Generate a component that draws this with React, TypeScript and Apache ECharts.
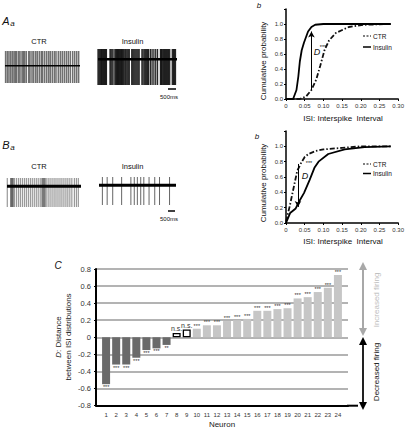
import React, { useEffect, useRef } from 'react';
import * as echarts from 'echarts';

const FONT = '"Liberation Sans", Arial, Helvetica, sans-serif';

// ---------- Panels Aa / Ba : spike times (ms) of the example recordings ----------
const spikesACtr = [40, 155, 265, 380, 490, 600, 690, 780, 910, 1000, 1135, 1220, 1310, 1420, 1580, 1665, 1800, 1910, 2045, 2155, 2290, 2420, 2510, 2645, 2780, 2910, 3020, 3155, 3290, 3400, 3555, 3690, 3820, 3955, 4090, 4220, 4355, 4510, 4645, 4780, 4910];
const spikesAIns = [0, 60, 120, 180, 240, 300, 370, 430, 500, 555, 790, 850, 920, 990, 1110, 1170, 1230, 1290, 1350, 1410, 1480, 1540, 1600, 1660, 1720, 1790, 1850, 1920, 1990, 2060, 2220, 2290, 2360, 2430, 2500, 2570, 2640, 2710, 2890, 2960, 3040, 3110, 3180, 3260, 3330, 3450, 3560, 3680, 3800, 3920, 4110, 4170, 4230, 4300, 4370, 4440, 4510, 4580, 4650, 4720, 4890, 4960, 5030, 5100];
const spikesBCtr = [20, 245, 275, 305, 335, 365, 395, 420, 510, 645, 780, 910, 1045, 1180, 1310, 1445, 1580, 1710, 1845, 1980, 2110, 2245, 2355, 2400, 2445, 2480, 2535, 2570, 2645, 2780, 2910, 3045, 3180, 3310, 3445, 3580, 3710, 3845, 3980, 4110, 4245, 4380, 4555, 4690, 4820];
const spikesBIns = [220, 530, 890, 1470, 2070, 2290, 2490, 2710, 2910, 3250, 3620, 3930, 4580];
const traceEndMs = [5000, 5200, 5000, 5000];
// [spike peak, resting level, spike trough] (arbitrary units)
const levelsACtr = [40, -15, -80];
const levelsAIns = [40, 6, -80];
const levelsBCtr = [40, 6, -80];
const levelsBIns = [40, 5, -80];

// ---------- Panels Ab / Bb : cumulative ISI distributions ----------
const cdfACtr = [[0, 0], [0.037, 0], [0.054, 0.035], [0.068, 0.12], [0.081, 0.26], [0.092, 0.45], [0.103, 0.65], [0.115, 0.78], [0.133, 0.88], [0.168, 0.96], [0.21, 0.99], [0.28, 1.0]];
const cdfAIns = [[0, 0], [0.019, 0], [0.028, 0.12], [0.033, 0.3], [0.037, 0.5], [0.042, 0.65], [0.048, 0.75], [0.059, 0.9], [0.068, 0.96], [0.078, 0.99], [0.1, 1.0], [0.28, 1.0]];
const cdfBCtr = [[0, 0.02], [0.01, 0.22], [0.02, 0.45], [0.03, 0.68], [0.04, 0.78], [0.05, 0.86], [0.06, 0.9], [0.08, 0.94], [0.1, 0.96], [0.15, 0.98], [0.2, 1.0], [0.28, 1.0]];
const cdfBIns = [[0, 0], [0.011, 0.13], [0.026, 0.19], [0.035, 0.28], [0.048, 0.39], [0.063, 0.56], [0.076, 0.72], [0.087, 0.8], [0.113, 0.9], [0.157, 0.96], [0.21, 0.99], [0.28, 1.0]];
const dArrowA = [[0.068, 0.12], [0.068, 0.9]];
const dArrowB = [[0.032, 0.77], [0.032, 0.21]];

// ---------- Panel C : KS distance per neuron ----------
const neurons = [1, 2, 3, 4, 5, 6, 7, 8, 9, 10, 11, 12, 13, 14, 15, 16, 17, 18, 19, 20, 21, 22, 23, 24];
const dValues = [-0.55, -0.32, -0.32, -0.24, -0.15, -0.13, -0.09, 0.05, 0.09, 0.10, 0.14, 0.14, 0.19, 0.20, 0.215, 0.31, 0.31, 0.33, 0.34, 0.455, 0.47, 0.53, 0.58, 0.73];
const significance = ['***', '***', '***', '***', '***', '***', '**', 'n.s.', 'n.s.', '***', '***', '***', '***', '***', '***', '***', '***', '***', '***', '***', '***', '***', '***', '***'];
const dTicks = [-0.8, -0.6, -0.4, -0.2, 0, 0.2, 0.4, 0.6, 0.8];

export default function App() {
  const ref = useRef<HTMLDivElement>(null);
  useEffect(() => {
    if (!ref.current) return;
    const chart = echarts.init(ref.current, undefined, { renderer: 'svg' });

    const traceGrids = [
      { left: 5, top: 51, width: 75, height: 32 },
      { left: 98, top: 49, width: 79, height: 36 },
      { left: 7, top: 178, width: 74, height: 29 },
      { left: 99, top: 177, width: 77, height: 28 },
    ];
    const traces = [
      { spikes: spikesACtr, lv: levelsACtr, color: '#333', op: 0.7, w: 1.5, base: 1.5 },
      { spikes: spikesAIns, lv: levelsAIns, color: '#000', op: 0.85, w: 1.3, base: 2.5 },
      { spikes: spikesBCtr, lv: levelsBCtr, color: '#555', op: 0.6, w: 1.2, base: 3 },
      { spikes: spikesBIns, lv: levelsBIns, color: '#555', op: 0.9, w: 1, base: 3 },
    ];

    const grids: any[] = [
      ...traceGrids,
      { left: 286, top: 9, width: 114, height: 90 },
      { left: 286, top: 131, width: 114, height: 92 },
      { left: 96, top: 269, width: 252, height: 136.5 },
    ];

    const xAxes: any[] = [];
    const yAxes: any[] = [];
    const series: any[] = [];

    traces.forEach((tr, i) => {
      xAxes.push({ gridIndex: i, type: 'value', min: 0, max: traceEndMs[i], show: false });
      yAxes.push({ gridIndex: i, type: 'value', min: tr.lv[2], max: tr.lv[0], show: false });
      series.push({
        type: 'custom', xAxisIndex: i, yAxisIndex: i, silent: true,
        data: tr.spikes.map((t) => [t, tr.lv[0], tr.lv[2]]),
        renderItem: (params: any, api: any) => {
          const a = api.coord([api.value(0), api.value(1)]);
          const b = api.coord([api.value(0), api.value(2)]);
          return {
            type: 'line',
            shape: { x1: a[0], y1: a[1], x2: b[0], y2: b[1] },
            style: { stroke: tr.color, lineWidth: tr.w, opacity: tr.op },
          };
        },
      });
      series.push({
        type: 'line', xAxisIndex: i, yAxisIndex: i, silent: true, symbol: 'none',
        data: [[0, tr.lv[1]], [traceEndMs[i], tr.lv[1]]],
        lineStyle: { color: '#000', width: tr.base },
      });
    });

    const cdfX = (gi: number) => ({
      gridIndex: gi, type: 'value', min: 0, max: 0.3, interval: 0.05,
      axisLine: { onZero: false, lineStyle: { color: '#000', width: 1.5 } },
      axisTick: { show: true, length: 2, lineStyle: { color: '#000' } },
      splitLine: { show: false },
      axisLabel: { fontSize: 6, color: '#333', fontFamily: FONT, margin: 4, formatter: (v: number) => (v === 0 ? '0' : v.toFixed(2)) },
    });
    const cdfY = (gi: number) => ({
      gridIndex: gi, type: 'value', min: 0, max: 1.2, interval: 0.2,
      axisLine: { show: true, onZero: false, lineStyle: { color: '#000', width: 1.5 } },
      axisTick: { show: true, length: 2, lineStyle: { color: '#000' } },
      splitLine: { show: false },
      axisLabel: { fontSize: 6, color: '#333', fontFamily: FONT, margin: 3, formatter: (v: number) => (v > 1.05 ? '' : v.toFixed(1)) },
    });
    xAxes.push(cdfX(4), cdfX(5));
    yAxes.push(cdfY(4), cdfY(5));

    const dashDot = [5, 2, 1.5, 2];
    const addCdf = (gi: number, ctr: number[][], ins: number[][], arrow: number[][]) => {
      series.push({
        type: 'line', name: 'CTR', xAxisIndex: gi, yAxisIndex: gi, symbol: 'none', silent: true,
        data: ctr, lineStyle: { color: '#111', width: 1.8, type: dashDot },
        markLine: {
          silent: true, symbol: ['none', 'arrow'], symbolSize: [5, 6], animation: false,
          lineStyle: { color: '#000', width: 1, type: 'solid' }, label: { show: false },
          data: [[{ coord: arrow[0] }, { coord: arrow[1] }]],
        },
      });
      series.push({
        type: 'line', name: 'Insulin', xAxisIndex: gi, yAxisIndex: gi, symbol: 'none', silent: true,
        data: ins, lineStyle: { color: '#000', width: 1.8 },
      });
    };
    addCdf(4, cdfACtr, cdfAIns, dArrowA);
    addCdf(5, cdfBCtr, cdfBIns, dArrowB);

    // Panel C axes
    xAxes.push({
      gridIndex: 6, type: 'value', min: 0, max: 25, interval: 1,
      axisLine: { onZero: false, lineStyle: { color: '#000', width: 2 } },
      axisTick: { show: false }, splitLine: { show: false },
      axisLabel: { fontSize: 6, color: '#333', fontFamily: FONT, margin: 6, formatter: (v: number) => (v >= 1 && v <= 24 ? String(neurons[v - 1]) : '') },
      name: 'Neuron', nameLocation: 'middle', nameGap: 15,
      nameTextStyle: { fontSize: 8, color: '#222', fontFamily: FONT },
    });
    yAxes.push({
      gridIndex: 6, type: 'value', min: dTicks[0], max: dTicks[dTicks.length - 1], interval: 0.2,
      axisLine: { show: true, onZero: false, lineStyle: { color: '#000', width: 2 } },
      axisTick: { show: true, length: 2, lineStyle: { color: '#000' } },
      splitLine: { show: true, lineStyle: { color: '#9a9a9a', width: 1.5 } },
      axisLabel: { fontSize: 7.5, color: '#333', fontFamily: FONT, margin: 5, formatter: (v: number) => (Math.abs(v) < 1e-9 ? '0' : v.toFixed(1)) },
    });
    series.push({
      type: 'bar', xAxisIndex: 6, yAxisIndex: 6, barWidth: 8, silent: true,
      data: neurons.map((n, i) => {
        const v = dValues[i];
        const ns = significance[i] === 'n.s.';
        return {
          value: [n, v],
          itemStyle: ns
            ? { color: '#fff', borderColor: '#000', borderWidth: 1.3 }
            : { color: v < 0 ? '#6a6a6a' : '#c6c6c6' },
          label: {
            show: true, position: v < 0 ? 'bottom' : 'top', distance: ns ? 1 : 0,
            formatter: significance[i], fontSize: ns ? 7 : 5.5, color: '#333', fontFamily: FONT,
          },
        };
      }),
    });

    const txt = (text: string, x: number, y: number, o: any = {}) => ({
      type: 'text', x, y, rotation: o.rotation || 0, silent: true,
      style: {
        text, fill: o.fill || '#111', fontSize: o.size || 8, fontFamily: FONT,
        fontStyle: o.italic ? 'italic' : 'normal',
        textAlign: o.align || 'center', textVerticalAlign: 'middle',
      },
    });
    const ln = (x1: number, y1: number, x2: number, y2: number, stroke: string, w: number, dash?: number[]) => ({
      type: 'line', silent: true, shape: { x1, y1, x2, y2 },
      style: { stroke, lineWidth: w, lineDash: dash },
    });
    const head = (x: number, y: number, up: boolean, fill: string) => ({
      type: 'polygon', silent: true,
      shape: { points: up ? [[x - 4, y + 8], [x + 4, y + 8], [x, y]] : [[x - 4, y - 8], [x + 4, y - 8], [x, y]] },
      style: { fill },
    });

    const graphic: any[] = [
      txt('A', 6, 21, { size: 11, italic: true }),
      txt('a', 12.5, 23, { size: 8, italic: true }),
      txt('B', 6, 145, { size: 11, italic: true }),
      txt('a', 12.5, 147, { size: 8, italic: true }),
      txt('CTR', 39, 41, { size: 7.5 }),
      txt('Insulin', 132.5, 41, { size: 7.5 }),
      txt('CTR', 39, 166, { size: 7.5 }),
      txt('Insulin', 132.5, 166, { size: 7.5 }),
      ln(168, 89, 176, 89, '#000', 1.5),
      txt('500ms', 169, 97, { size: 6 }),
      ln(168, 211, 175, 211, '#000', 1.5),
      txt('500ms', 169, 219, { size: 6 }),
      txt('b', 259, 5, { size: 8, italic: true }),
      txt('b', 257, 136, { size: 8, italic: true }),
      txt('Cumulative probability', 263.5, 61, { size: 8, rotation: Math.PI / 2 }),
      txt('Cumulative probability', 263.5, 183, { size: 8, rotation: Math.PI / 2 }),
      txt('ISI: Interspike  Interval', 343, 118, { size: 8 }),
      txt('ISI: Interspike  Interval', 343, 241, { size: 8 }),
      ln(363, 36, 371, 36, '#000', 1.2, [2, 1.5]),
      txt('CTR', 373, 36, { size: 6.5, align: 'left' }),
      ln(363, 47, 371, 47, '#000', 1.5),
      txt('Insulin', 373, 47, { size: 6.5, align: 'left' }),
      ln(363, 164, 371, 164, '#000', 1.2, [2, 1.5]),
      txt('CTR', 373, 164, { size: 6.5, align: 'left' }),
      ln(363, 173.5, 371, 173.5, '#000', 1.5),
      txt('Insulin', 373, 173.5, { size: 6.5, align: 'left' }),
      txt('D', 317, 52, { size: 9, italic: true }),
      txt('***', 323, 46.5, { size: 5.5 }),
      txt('D', 305, 176, { size: 9, italic: true }),
      txt('***', 309, 163, { size: 5.5 }),
      txt('C', 58, 265, { size: 10, italic: true }),
      {
        type: 'text', x: 58, y: 337, rotation: Math.PI / 2, silent: true,
        style: {
          text: '{i|D}: Distance', fill: '#222', fontSize: 8, fontFamily: FONT,
          textAlign: 'center', textVerticalAlign: 'middle',
          rich: { i: { fontStyle: 'italic', fontSize: 8, fontFamily: FONT, fill: '#222' } },
        },
      },
      txt('between ISI distributions', 68, 337, { size: 8, rotation: Math.PI / 2, fill: '#222' }),
      ln(347, 405.7, 358, 405.7, '#000', 2),
      ln(363, 268, 363, 330, '#a8a8a8', 2),
      head(363, 262, true, '#a8a8a8'),
      head(363, 336, false, '#a8a8a8'),
      txt('Increased firing', 376, 300, { size: 8, rotation: Math.PI / 2, fill: '#bdbdbd' }),
      ln(363, 343, 363, 404, '#222', 2),
      head(363, 337, true, '#000'),
      head(363, 410, false, '#000'),
      txt('Decreased firing', 376, 372, { size: 8, rotation: Math.PI / 2, fill: '#111' }),
    ];

    chart.setOption({
      animation: false,
      textStyle: { fontFamily: FONT },
      grid: grids,
      xAxis: xAxes,
      yAxis: yAxes,
      series,
      graphic,
    });
    return () => chart.dispose();
  }, []);
  return <div ref={ref} style={{ position: 'absolute', left: 0, top: 0, width: 407, height: 433, background: '#fff' }} />;
}
